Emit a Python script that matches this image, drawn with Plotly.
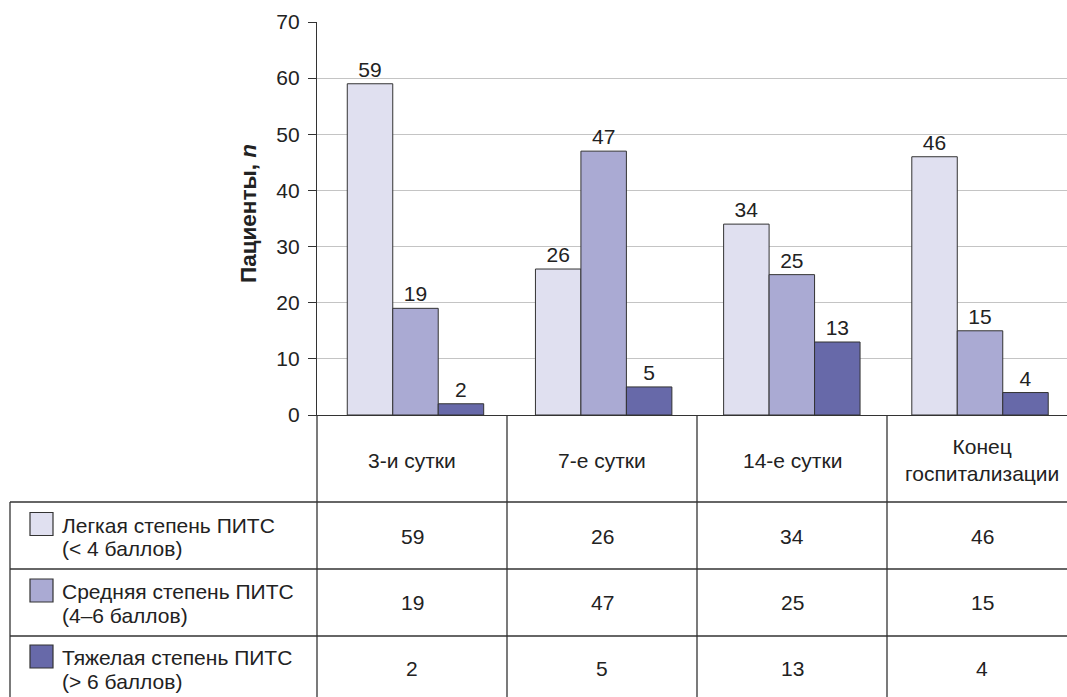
import plotly.graph_objects as go

# Data
categories = ["3-и сутки", "7-е сутки", "14-е сутки", "Конец<br>госпитализации"]
series_names = [["Легкая степень ПИТС", "(< 4 баллов)"],
                ["Средняя степень ПИТС", "(4–6 баллов)"],
                ["Тяжелая степень ПИТС", "(> 6 баллов)"]]
mild = [59, 26, 34, 46]
moderate = [19, 47, 25, 15]
severe = [2, 5, 13, 4]
y_ticks = [0, 10, 20, 30, 40, 50, 60, 70]

series_values = [mild, moderate, severe]
colors = ["#e0e0f0", "#aaaad3", "#6769a9"]

W, H = 1067, 697
L, R, T, B = 317, 0, 22, 282
FONT = "Liberation Sans, Arial, sans-serif"
FS = 21
TXT = "#222222"
LINE = "#333333"


def px(x):
    return (x - L) / (W - L - R)


def py(y):
    return (H - B - y) / (H - T - B)


fig = go.Figure()
for name, vals, col in zip(series_names, series_values, colors):
    fig.add_trace(go.Bar(
        x=list(range(len(categories))), y=vals, name=" ".join(name),
        marker=dict(color=col, line=dict(color=LINE, width=1)),
        text=[str(v) for v in vals], textposition="outside",
        textfont=dict(family=FONT, size=FS, color=TXT),
        cliponaxis=False,
    ))

shapes = []
annotations = []

# Table grid
table_top = 415
row_bounds = [502, 569, 636]
col_edges = [317 + 190 * i for i in range(5)]
for yb in row_bounds:
    shapes.append(dict(type="line", xref="paper", yref="paper",
                       x0=px(10), x1=px(W + 5), y0=py(yb), y1=py(yb),
                       line=dict(color=LINE, width=1.3)))
for xe in col_edges[:4]:
    shapes.append(dict(type="line", xref="paper", yref="paper",
                       x0=px(xe), x1=px(xe), y0=py(table_top), y1=py(H + 5),
                       line=dict(color=LINE, width=1.3)))
shapes.append(dict(type="line", xref="paper", yref="paper",
                   x0=px(10), x1=px(10), y0=py(502), y1=py(H + 5),
                   line=dict(color=LINE, width=1.3)))

# Header row: category names
for i, c in enumerate(categories):
    cx = col_edges[i] + 95
    annotations.append(dict(xref="paper", yref="paper", x=px(cx), y=py(460),
                            text=c, showarrow=False, xanchor="center", yanchor="middle",
                            font=dict(family=FONT, size=FS, color=TXT)))

# Data rows with legend swatches
row_centers = [536, 602.5, 668.5]
for name, vals, col, rc in zip(series_names, series_values, colors, row_centers):
    shapes.append(dict(type="rect", xref="paper", yref="paper",
                       x0=px(30), x1=px(53), y0=py(rc - 23.5), y1=py(rc - 0.5),
                       fillcolor=col, line=dict(color=LINE, width=1.2)))
    for k, line_txt in enumerate(name):
        annotations.append(dict(xref="paper", yref="paper", x=px(60),
                                y=py(rc - 11 + 23.5 * k),
                                text=line_txt, showarrow=False,
                                xanchor="left", yanchor="middle",
                                font=dict(family=FONT, size=FS, color=TXT)))
    for i, v in enumerate(vals):
        cx = col_edges[i] + 95
        annotations.append(dict(xref="paper", yref="paper", x=px(cx), y=py(rc),
                                text=str(v), showarrow=False, xanchor="center", yanchor="middle",
                                font=dict(family=FONT, size=FS, color=TXT)))

# Y axis title
annotations.append(dict(xref="paper", yref="paper", x=px(248), y=py(214),
                        text="<b>Пациенты, <i>n</i></b>", showarrow=False, textangle=-90,
                        xanchor="center", yanchor="middle",
                        font=dict(family=FONT, size=22.5, color=TXT)))

# Category axis scale: group centres ~188 px apart, first at x=415.5
unit = 188.2
x_lo = (317 - 415.5) / unit
x_hi = 3 + (W - 980) / unit

fig.update_layout(
    width=W, height=H,
    margin=dict(l=L, r=R, t=T, b=B, pad=0),
    paper_bgcolor="white", plot_bgcolor="white",
    barmode="group", bargap=0.275, bargroupgap=0,
    showlegend=False,
    shapes=shapes, annotations=annotations,
    xaxis=dict(range=[x_lo, x_hi], showticklabels=False, ticks="",
               showgrid=False, zeroline=False, showline=True,
               linecolor=LINE, linewidth=1.3),
    yaxis=dict(range=[0, 70], tickvals=y_ticks, ticks="outside", ticklen=8,
               tickcolor=LINE, tickwidth=1.3, showline=True, linecolor=LINE, linewidth=1.3,
               showgrid=True, gridcolor="#c4c4c4", gridwidth=1.3, zeroline=False,
               tickfont=dict(family=FONT, size=FS, color=TXT), ticklabelstandoff=4),
)

fig.write_html("out.html")
